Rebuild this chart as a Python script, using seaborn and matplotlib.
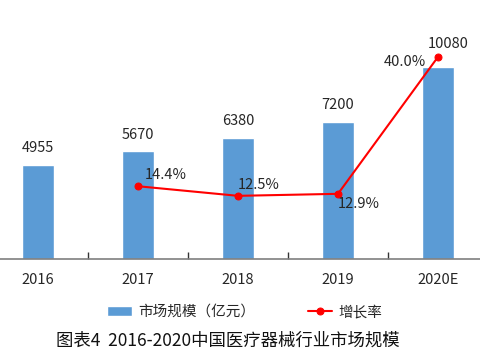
import seaborn as sns
import matplotlib.pyplot as plt
import pandas as pd

years = ["2016", "2017", "2018", "2019", "2020E"]
market_size = [4955, 5670, 6380, 7200, 10080]
growth_years = ["2017", "2018", "2019", "2020E"]
growth_rate = [0.144, 0.125, 0.129, 0.400]
growth_labels = ["14.4%", "12.5%", "12.9%", "40.0%"]

sns.set_style("white")
plt.rcParams['font.family'] = ['Noto Sans CJK SC', 'DejaVu Sans']

bar_color = "#5B9BD5"
line_color = "#FF0000"
text_color = "#262626"

fig = plt.figure(figsize=(4.8, 3.6), dpi=100)
ax = fig.add_axes([0.0, 101 / 360, 1.0, 239 / 360])

df = pd.DataFrame({"year": years, "size": market_size})
sns.barplot(data=df, x="year", y="size", color=bar_color, width=0.32,
            saturation=1, ax=ax, label="市场规模（亿元）")
ax.set_xlim(-0.38, 4.42)
ax.set_ylim(0, 12580)
ax.set_xlabel("")
ax.set_ylabel("")
ax.set_yticks([])
for s in ["top", "left", "right"]:
    ax.spines[s].set_visible(False)
ax.spines["bottom"].set_color("#7f7f7f")
ax.spines["bottom"].set_linewidth(1.2)
ax.tick_params(axis="x", length=0, pad=10, labelsize=10.5, labelcolor=text_color)
# small upward ticks between categories
ax.set_xticks([i + 0.5 for i in range(len(years) - 1)], minor=True)
ax.tick_params(axis="x", which="minor", bottom=True, direction="in", length=5,
               color="#333333", width=1)

for i, v in enumerate(market_size):
    dx, dy = (7, 12) if i == len(market_size) - 1 else (0, 7)
    ax.annotate(str(v), (i, v), xytext=(dx, dy), textcoords="offset points",
                ha="center", va="bottom", fontsize=10.5, color=text_color)

ax2 = ax.twinx()
gx = [years.index(y) for y in growth_years]
sns.lineplot(x=gx, y=growth_rate, ax=ax2, color=line_color, marker="o",
             markersize=5, markeredgecolor=line_color, linewidth=1.5, label="增长率")
ax2.set_ylim(0, 0.473)
ax2.set_yticks([])
ax2.set_ylabel("")
for s in ["top", "left", "right", "bottom"]:
    ax2.spines[s].set_visible(False)

offsets = [(5, 3, "left", "bottom"), (0, 3, "left", "bottom"),
           (0, -2, "left", "top"), (-9, 1, "right", "top")]
for x, y, lab, (dx, dy, ha, va) in zip(gx, growth_rate, growth_labels, offsets):
    ax2.annotate(lab, (x, y), xytext=(dx, dy), textcoords="offset points",
                 ha=ha, va=va, fontsize=10.5, color=text_color)

h1, l1 = ax.get_legend_handles_labels()
h2, l2 = ax2.get_legend_handles_labels()
if ax2.get_legend():
    ax2.get_legend().remove()
if ax.get_legend():
    ax.get_legend().remove()
fig.legend(h1 + h2, l1 + l2, loc="center", bbox_to_anchor=(0.51, 48 / 360), ncol=2,
           frameon=False, fontsize=10.5, handlelength=1.7, handletextpad=0.4,
           columnspacing=3.6, labelcolor=text_color)

fig.text(228 / 480, 19 / 360, "图表4  2016-2020中国医疗器械行业市场规模", ha="center", va="center",
         fontsize=12.5, fontweight=500, color="#111111")

fig.savefig("out.png", dpi=100)
